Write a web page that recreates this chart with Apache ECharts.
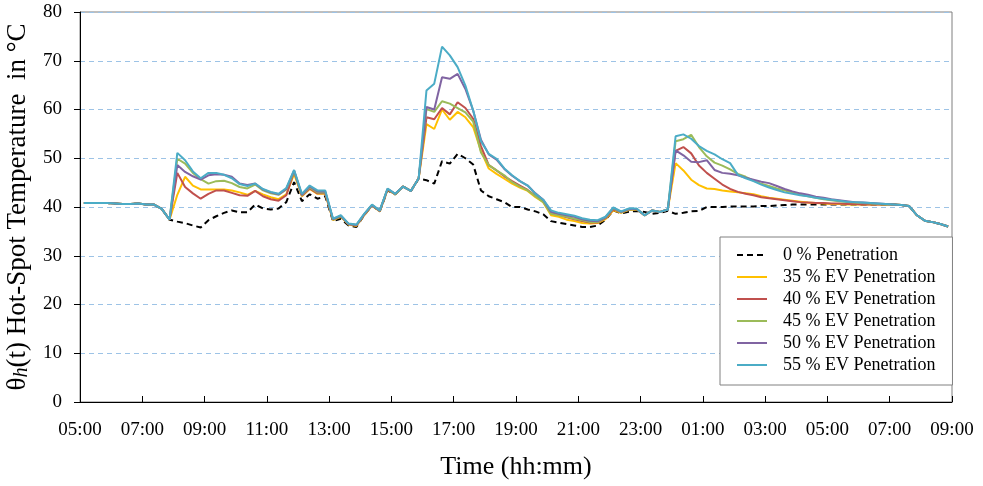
<!DOCTYPE html>
<html>
<head>
<meta charset="utf-8">
<script src="https://cdn.jsdelivr.net/npm/echarts@6/dist/echarts.min.js"></script>
<style>
  html, body { margin: 0; padding: 0; background: #ffffff; }
  #chart { width: 983px; height: 486px; }
</style>
</head>
<body>
<div id="chart"></div>
<script>
// Hot-spot temperature, 15-minute samples from 05:00 to 09:00 the next day.
// Each sample sits in the middle of its 15-minute slot.
const startHour = 5;          // first tick = 05:00
const spanHours = 28;         // 05:00 .. 09:00 (+1 day)
const slotHours = 0.25;       // 15-minute resolution

const seriesNames = [
  '0 % Penetration',
  '35 % EV Penetration',
  '40 % EV Penetration',
  '45 % EV Penetration',
  '50 % EV Penetration',
  '55 % EV Penetration'
];

const pen0 = [
  40.8,40.8,40.8,40.8,40.7,40.6,40.6,40.7,40.5,40.5,39.6,37.4,
  37.0,36.7,36.2,35.8,37.3,38.1,38.8,39.3,38.9,38.9,40.5,39.7,39.5,39.7,41.0,45.1,
  41.2,42.6,41.7,42.2,37.1,37.6,36.2,35.9,38.3,40.3,39.1,43.4,42.6,44.2,43.3,45.8,
  45.5,44.8,49.4,48.9,50.9,50.0,48.7,43.4,42.2,41.6,41.0,40.0,40.0,39.5,39.1,38.5,
  37.1,36.8,36.5,36.2,35.9,35.9,36.2,37.4,39.3,38.7,39.0,39.2,39.0,38.6,38.8,39.2,
  38.6,38.8,39.1,39.2,40.0,40.0,40.0,40.1,40.1,40.1,40.1,40.2,40.2,40.3,40.4,40.5,
  40.5,40.5,40.5,40.5,40.5,40.5,40.5,40.5,40.5,40.5,40.5,40.5,40.5,40.4,40.2,38.3,37.2,36.9,36.5,36.0
];

const pen35 = [
  40.8,40.8,40.8,40.8,40.7,40.6,40.6,40.7,40.5,40.5,39.6,37.4,
  42.5,46.2,44.4,43.6,43.6,43.6,43.6,43.4,43.0,42.5,43.3,42.6,42.0,41.6,42.6,46.8,
  42.2,43.7,42.7,42.7,37.3,38.0,36.4,36.1,38.3,40.3,39.1,43.5,42.6,44.2,43.3,45.9,
  57.0,56.0,60.0,57.9,59.5,58.4,56.4,51.5,47.9,46.8,45.8,44.8,44.0,43.3,42.0,41.0,
  38.3,38.0,37.4,37.1,36.7,36.6,36.7,37.5,39.3,38.8,39.4,39.5,38.3,39.3,39.0,39.5,
  49.0,47.5,45.6,44.5,43.8,43.7,43.4,43.2,43.0,42.8,42.6,42.2,41.9,41.7,41.5,41.3,
  41.1,40.9,40.8,40.7,40.6,40.6,40.5,40.5,40.5,40.5,40.5,40.5,40.5,40.4,40.2,38.3,37.2,36.9,36.5,36.0
];

const pen40 = [
  40.8,40.8,40.8,40.8,40.7,40.6,40.6,40.7,40.5,40.5,39.6,37.4,
  47.0,44.1,42.8,41.7,42.7,43.4,43.4,42.9,42.4,42.3,43.3,42.2,41.6,41.3,42.4,47.3,
  42.3,43.8,42.8,42.8,37.4,38.1,36.5,36.2,38.4,40.4,39.2,43.6,42.6,44.2,43.3,45.9,
  58.4,58.0,60.3,59.0,61.5,60.3,58.1,52.5,48.6,47.5,46.3,45.3,44.4,43.5,42.3,41.2,
  38.7,38.4,37.9,37.5,37.1,36.8,36.8,37.7,39.5,38.9,39.5,39.6,38.3,39.3,39.0,39.5,
  51.5,52.3,51.0,48.5,47.0,45.8,44.6,43.7,43.1,42.7,42.4,42.0,41.8,41.6,41.4,41.2,
  41.0,40.9,40.8,40.8,40.7,40.7,40.6,40.6,40.5,40.5,40.5,40.5,40.5,40.4,40.2,38.3,37.2,36.9,36.5,36.0
];

const pen45 = [
  40.8,40.8,40.8,40.8,40.7,40.6,40.6,40.7,40.5,40.5,39.6,37.4,
  49.9,48.9,47.0,45.7,44.8,45.3,45.4,44.9,44.1,43.8,44.6,43.4,42.8,42.5,43.6,47.2,
  42.4,44.0,43.0,43.0,37.4,38.1,36.5,36.3,38.5,40.4,39.2,43.7,42.6,44.2,43.3,45.9,
  60.1,59.5,61.7,61.2,60.3,59.4,57.5,51.2,48.6,47.5,46.5,45.1,44.2,43.4,42.2,41.0,
  38.6,38.3,38.0,37.6,37.3,36.9,36.9,37.8,39.7,38.9,39.5,39.6,38.3,39.3,39.0,39.5,
  53.5,53.9,54.8,52.3,50.4,49.1,48.5,47.7,46.8,46.2,45.4,44.8,44.3,43.8,43.4,43.0,
  42.5,42.2,41.9,41.6,41.4,41.2,41.0,40.9,40.8,40.7,40.6,40.5,40.5,40.4,40.2,38.3,37.2,36.9,36.5,36.0
];

const pen50 = [
  40.8,40.8,40.8,40.8,40.7,40.6,40.6,40.7,40.5,40.5,39.6,37.4,
  48.6,47.2,46.3,45.6,46.5,46.7,46.6,46.2,44.8,44.5,44.8,43.6,43.0,42.6,43.7,47.5,
  42.5,44.2,43.2,43.2,37.5,38.2,36.5,36.3,38.5,40.4,39.2,43.7,42.7,44.2,43.3,45.9,
  60.5,60.0,66.6,66.3,67.3,64.2,59.8,53.8,50.8,49.7,47.8,46.4,45.3,44.4,42.8,41.5,
  39.0,38.6,38.3,38.0,37.5,37.2,37.1,37.9,39.8,39.0,39.6,39.6,38.3,39.3,39.0,39.5,
  51.6,50.6,49.3,49.2,49.6,47.6,47.0,46.8,46.5,46.0,45.6,45.2,44.9,44.3,43.7,43.2,
  42.8,42.5,42.1,41.9,41.6,41.4,41.2,41.0,40.9,40.8,40.7,40.6,40.5,40.4,40.2,38.3,37.2,36.9,36.5,36.0
];

const pen55 = [
  40.8,40.8,40.8,40.8,40.7,40.6,40.6,40.7,40.5,40.5,39.6,37.4,
  51.1,49.6,47.3,45.9,47.0,47.0,46.6,45.9,44.7,44.3,44.8,43.7,43.1,42.7,43.9,47.6,
  42.7,44.4,43.4,43.4,37.6,38.3,36.6,36.4,38.6,40.5,39.3,43.8,42.7,44.2,43.3,45.9,
  63.9,65.3,72.9,71.1,68.7,64.9,59.8,53.5,50.9,49.9,47.9,46.5,45.3,44.4,42.7,41.5,
  39.3,38.8,38.5,38.2,37.7,37.4,37.3,38.0,39.9,39.1,39.7,39.7,38.3,39.3,39.0,39.5,
  54.5,54.9,54.0,52.5,51.5,50.8,49.8,49.0,46.6,45.9,45.3,44.6,44.0,43.5,43.0,42.7,
  42.4,42.2,41.9,41.7,41.5,41.3,41.1,41.0,40.9,40.8,40.7,40.6,40.5,40.4,40.2,38.3,37.2,36.9,36.5,36.0
];

const seriesValues = [pen0, pen35, pen40, pen45, pen50, pen55];
const seriesColors = ['#000000', '#FFC000', '#C0504D', '#9BBB59', '#8064A2', '#4BACC6'];

// pair each sample with its slot-centre time (hours after 05:00)
function toPoints(values) {
  return values.map((v, i) => [slotHours / 2 + i * slotHours, v]);
}

function hourLabel(v) {
  const h = (startHour + Math.round(v)) % 24;
  return (h < 10 ? '0' : '') + h + ':00';
}

const serif = '"Liberation Serif", "Times New Roman", serif';

const chart = echarts.init(document.getElementById('chart'), null, { renderer: 'canvas' });

chart.setOption({
  backgroundColor: '#ffffff',
  animation: false,
  textStyle: { fontFamily: serif, color: '#000' },
  grid: {
    left: 80, right: 31, top: 12, bottom: 84,
    outerBoundsMode: 'none',
    containLabel: false,
    show: true, borderColor: '#7f7f7f', borderWidth: 1, backgroundColor: 'transparent'
  },
  legend: {
    orient: 'vertical',
    left: 720, top: 237,
    padding: [9, 17, 11, 16],
    itemGap: 4,
    itemWidth: 30,
    itemHeight: 14,
    backgroundColor: '#ffffff',
    borderColor: '#808080',
    borderWidth: 1,
    itemStyle: { opacity: 0 },
    textStyle: { fontFamily: serif, fontSize: 18, color: '#000', lineHeight: 16, padding: [0, 0, 0, 11] },
    data: seriesNames
  },
  xAxis: {
    type: 'value',
    min: 0, max: spanHours, interval: 2,
    name: 'Time (hh:mm)',
    nameLocation: 'middle',
    nameGap: 52,
    nameTextStyle: { fontFamily: serif, fontSize: 26, color: '#000' },
    axisLine: { show: true, lineStyle: { color: '#000', width: 1 } },
    axisTick: { show: true, inside: true, length: 6, lineStyle: { color: '#000' } },
    axisLabel: { formatter: hourLabel, fontFamily: serif, fontSize: 19, color: '#000', margin: 19 },
    splitLine: { show: false }
  },
  yAxis: {
    type: 'value',
    min: 0, max: 80, interval: 10,
    name: '{t|θ}{s|h}{t|(t) Hot-Spot Temperature  in °C}',
    nameLocation: 'middle',
    nameGap: 44,
    nameRotate: 90,
    nameTextStyle: {
      rich: {
        t: { fontFamily: serif, fontSize: 27, color: '#000' },
        s: { fontFamily: serif, fontSize: 20, fontStyle: 'italic', color: '#000', padding: [8, 0, 0, 0] }
      }
    },
    axisLine: { show: true, lineStyle: { color: '#000', width: 1 } },
    axisTick: { show: true, inside: false, length: 6, lineStyle: { color: '#000' } },
    axisLabel: { fontFamily: serif, fontSize: 19, color: '#000', margin: 18 },
    splitLine: { show: true, lineStyle: { color: '#9DC3E6', type: [5, 4], width: 1 } }
  },
  series: seriesNames.map((name, k) => ({
    name: name,
    type: 'line',
    data: toPoints(seriesValues[k]),
    showSymbol: false,
    symbol: 'none',
    color: seriesColors[k],
    lineStyle: k === 0
      ? { color: '#000', width: 2, type: [6, 4] }
      : { color: seriesColors[k], width: 2 },
    z: 2 + k
  }))
});
</script>
</body>
</html>
